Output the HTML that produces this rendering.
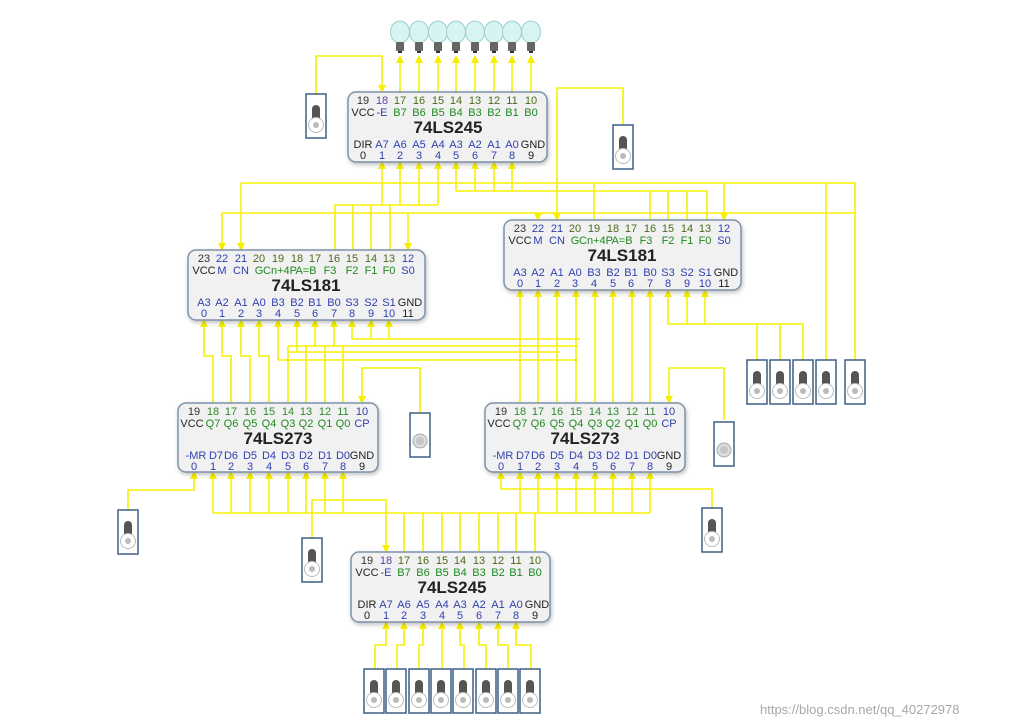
<!DOCTYPE html>
<html><head><meta charset="utf-8"><style>
html,body{margin:0;padding:0;background:#fff;width:1016px;height:727px;overflow:hidden}
svg{display:block}
.w{fill:none;stroke:#f6f000;stroke-width:1.6}
.n{font:11px "Liberation Sans",sans-serif;text-anchor:middle}
.t{font:bold 17px "Liberation Sans",sans-serif;text-anchor:middle;fill:#222}
.ch{fill:#f1f1f1;stroke:#7d93aa;stroke-width:1.5;filter:drop-shadow(1px 2px 2px rgba(0,0,0,0.25))}
.sw{fill:#fff;stroke:#3c5f85;stroke-width:1.5}
</style></head><body>
<svg width="1016" height="727" viewBox="0 0 1016 727" xmlns="http://www.w3.org/2000/svg">
<defs>
<marker id="a" markerWidth="8" markerHeight="8" refX="7" refY="4" orient="auto" markerUnits="userSpaceOnUse"><path d="M0,0 L8,4 L0,8 z" fill="#f6f000"/></marker>
<g id="s"><rect class="sw" x="0" y="0" width="20" height="44"/><rect x="6" y="11" width="8" height="18" rx="4" fill="#555"/><circle cx="10" cy="31" r="7.5" fill="#fff" stroke="#bbb"/><circle cx="10" cy="31" r="3" fill="#bbb"/></g>
<g id="bt"><rect class="sw" x="0" y="0" width="20" height="44"/><circle cx="10" cy="28" r="7" fill="#ddd" stroke="#aaa"/><circle cx="10" cy="28" r="4" fill="#c6c6c6"/></g>
<g id="bl"><ellipse cx="0" cy="-10" rx="9.5" ry="11" fill="#d6f4f2" stroke="#9ccfcc"/><rect x="-4" y="0" width="8" height="9" rx="1" fill="#666"/><rect x="-2" y="9" width="4" height="2" fill="#333"/></g>
</defs>

<use href="#bl" x="400" y="42"/><use href="#bl" x="419" y="42"/><use href="#bl" x="438" y="42"/><use href="#bl" x="456" y="42"/><use href="#bl" x="475" y="42"/><use href="#bl" x="494" y="42"/><use href="#bl" x="512" y="42"/><use href="#bl" x="531" y="42"/>

<g class="w">
<path d="M400 92V56" marker-end="url(#a)"/><path d="M419 92V56" marker-end="url(#a)"/><path d="M438 92V56" marker-end="url(#a)"/><path d="M456 92V56" marker-end="url(#a)"/><path d="M475 92V56" marker-end="url(#a)"/><path d="M494 92V56" marker-end="url(#a)"/><path d="M512 92V56" marker-end="url(#a)"/><path d="M531 92V56" marker-end="url(#a)"/>
<path d="M316 94V56H382V92" marker-end="url(#a)"/>
<path d="M623 125V88H557V220" marker-end="url(#a)"/>
<path d="M335 250V205H438"/>
<path d="M382 205V162" marker-end="url(#a)"/><path d="M400 205V162" marker-end="url(#a)"/><path d="M419 205V162" marker-end="url(#a)"/><path d="M438 205V162" marker-end="url(#a)"/>
<path d="M353 250V205M371 250V205M390 250V205"/>
<path d="M707 220V191H456"/>
<path d="M456 191V162" marker-end="url(#a)"/><path d="M475 191V162" marker-end="url(#a)"/><path d="M494 191V162" marker-end="url(#a)"/><path d="M512 191V162" marker-end="url(#a)"/>
<path d="M650 191V220M668 191V220M687 191V220"/>
<path d="M241 183H855V360"/><path d="M241 183V250" marker-end="url(#a)"/><path d="M594 183V220"/><path d="M724 183V220" marker-end="url(#a)"/><path d="M826 183V360"/>
<path d="M222 213H855"/><path d="M222 213V250" marker-end="url(#a)"/><path d="M408 213V250" marker-end="url(#a)"/><path d="M538 213V220" marker-end="url(#a)"/>
<path d="M213 403V356H204V320" marker-end="url(#a)"/><path d="M231 403V356H222V320" marker-end="url(#a)"/><path d="M250 403V356H241V320" marker-end="url(#a)"/><path d="M269 403V356H259V320" marker-end="url(#a)"/>
<path d="M352 339H580"/><path d="M352 339V320" marker-end="url(#a)"/><path d="M371 339V320" marker-end="url(#a)"/><path d="M389 339V320" marker-end="url(#a)"/>
<path d="M288 346H578M288 352H560M278 360H578"/>
<path d="M278 360V320" marker-end="url(#a)"/><path d="M297 352V320" marker-end="url(#a)"/><path d="M315 346V320" marker-end="url(#a)"/><path d="M334 346V320" marker-end="url(#a)"/>
<path d="M288 403V346M306 403V346M325 403V346M343 403V346"/>
<path d="M520 403V290" marker-end="url(#a)"/><path d="M538 403V290" marker-end="url(#a)"/><path d="M557 403V290" marker-end="url(#a)"/><path d="M576 403V290" marker-end="url(#a)"/><path d="M595 403V290" marker-end="url(#a)"/><path d="M613 403V290" marker-end="url(#a)"/><path d="M632 403V290" marker-end="url(#a)"/><path d="M650 403V290" marker-end="url(#a)"/>
<path d="M668 324H803V360M757 324V360M780 324V360"/>
<path d="M668 324V290" marker-end="url(#a)"/><path d="M687 324V290" marker-end="url(#a)"/><path d="M705 324V290" marker-end="url(#a)"/>
<path d="M420 413V368H362V403" marker-end="url(#a)"/>
<path d="M724 420V368H669V403" marker-end="url(#a)"/>
<path d="M128 510V490H194V472" marker-end="url(#a)"/>
<path d="M213 513H650"/>
<path d="M213 513V472" marker-end="url(#a)"/><path d="M231 513V472" marker-end="url(#a)"/><path d="M250 513V472" marker-end="url(#a)"/><path d="M269 513V472" marker-end="url(#a)"/><path d="M288 513V472" marker-end="url(#a)"/><path d="M306 513V472" marker-end="url(#a)"/><path d="M325 513V472" marker-end="url(#a)"/><path d="M343 513V472" marker-end="url(#a)"/>
<path d="M520 513V472" marker-end="url(#a)"/><path d="M538 513V472" marker-end="url(#a)"/><path d="M557 513V472" marker-end="url(#a)"/><path d="M576 513V472" marker-end="url(#a)"/><path d="M595 513V472" marker-end="url(#a)"/><path d="M613 513V472" marker-end="url(#a)"/><path d="M632 513V472" marker-end="url(#a)"/><path d="M650 513V472" marker-end="url(#a)"/>
<path d="M712 508V489H501V472" marker-end="url(#a)"/>
<path d="M404 513V552M423 513V552M442 513V552M460 513V552M479 513V552M498 513V552M516 513V552M535 513V552"/>
<path d="M312 538V500H386V552" marker-end="url(#a)"/>
<path d="M375 668V645H386V622" marker-end="url(#a)"/><path d="M397 668V645H404V622" marker-end="url(#a)"/><path d="M419 668V645H423V622" marker-end="url(#a)"/><path d="M442 668V645H442V622" marker-end="url(#a)"/><path d="M464 668V645H460V622" marker-end="url(#a)"/><path d="M486 668V645H479V622" marker-end="url(#a)"/><path d="M508 668V645H498V622" marker-end="url(#a)"/><path d="M531 668V645H516V622" marker-end="url(#a)"/>
</g>

<use href="#s" x="306" y="94"/><use href="#s" x="613" y="125"/>
<use href="#s" x="747" y="360"/><use href="#s" x="770" y="360"/><use href="#s" x="793" y="360"/><use href="#s" x="816" y="360"/><use href="#s" x="845" y="360"/>
<use href="#bt" x="410" y="413"/><use href="#bt" x="714" y="422"/>
<use href="#s" x="118" y="510"/><use href="#s" x="302" y="538"/><use href="#s" x="702" y="508"/>
<g><use href="#s" x="364" y="669"/><use href="#s" x="386" y="669"/><use href="#s" x="409" y="669"/><use href="#s" x="431" y="669"/><use href="#s" x="453" y="669"/><use href="#s" x="476" y="669"/><use href="#s" x="498" y="669"/><use href="#s" x="520" y="669"/></g>

<g transform="translate(0,92)">
<rect class="ch" x="348" y="0" width="199" height="70" rx="8"/>
<text class="n" y="12" fill="#4a6a1a"><tspan x="363" fill="#333">19</tspan><tspan x="382" fill="#6040a0">18</tspan><tspan x="400">17</tspan><tspan x="419">16</tspan><tspan x="438">15</tspan><tspan x="456">14</tspan><tspan x="475">13</tspan><tspan x="494">12</tspan><tspan x="512">11</tspan><tspan x="531">10</tspan></text>
<text class="n" y="24" fill="#1e8a1e"><tspan x="363" fill="#222">VCC</tspan><tspan x="382" fill="#3040b0">-E</tspan><tspan x="400">B7</tspan><tspan x="419">B6</tspan><tspan x="438">B5</tspan><tspan x="456">B4</tspan><tspan x="475">B3</tspan><tspan x="494">B2</tspan><tspan x="512">B1</tspan><tspan x="531">B0</tspan></text>
<text class="t" x="448" y="41">74LS245</text>
<text class="n" y="56" fill="#3040b0"><tspan x="363" fill="#222">DIR</tspan><tspan x="382">A7</tspan><tspan x="400">A6</tspan><tspan x="419">A5</tspan><tspan x="438">A4</tspan><tspan x="456">A3</tspan><tspan x="475">A2</tspan><tspan x="494">A1</tspan><tspan x="512">A0</tspan><tspan x="533" fill="#222">GND</tspan></text>
<text class="n" y="67" fill="#3040b0"><tspan x="363" fill="#222">0</tspan><tspan x="382">1</tspan><tspan x="400">2</tspan><tspan x="419">3</tspan><tspan x="438">4</tspan><tspan x="456">5</tspan><tspan x="475">6</tspan><tspan x="494">7</tspan><tspan x="512">8</tspan><tspan x="531" fill="#222">9</tspan></text>
</g>

<g transform="translate(4,552)">
<rect class="ch" x="347" y="0" width="199" height="70" rx="8"/>
<text class="n" y="12" fill="#4a6a1a"><tspan x="363" fill="#333">19</tspan><tspan x="382" fill="#6040a0">18</tspan><tspan x="400">17</tspan><tspan x="419">16</tspan><tspan x="438">15</tspan><tspan x="456">14</tspan><tspan x="475">13</tspan><tspan x="494">12</tspan><tspan x="512">11</tspan><tspan x="531">10</tspan></text>
<text class="n" y="24" fill="#1e8a1e"><tspan x="363" fill="#222">VCC</tspan><tspan x="382" fill="#3040b0">-E</tspan><tspan x="400">B7</tspan><tspan x="419">B6</tspan><tspan x="438">B5</tspan><tspan x="456">B4</tspan><tspan x="475">B3</tspan><tspan x="494">B2</tspan><tspan x="512">B1</tspan><tspan x="531">B0</tspan></text>
<text class="t" x="448" y="41">74LS245</text>
<text class="n" y="56" fill="#3040b0"><tspan x="363" fill="#222">DIR</tspan><tspan x="382">A7</tspan><tspan x="400">A6</tspan><tspan x="419">A5</tspan><tspan x="438">A4</tspan><tspan x="456">A3</tspan><tspan x="475">A2</tspan><tspan x="494">A1</tspan><tspan x="512">A0</tspan><tspan x="533" fill="#222">GND</tspan></text>
<text class="n" y="67" fill="#3040b0"><tspan x="363" fill="#222">0</tspan><tspan x="382">1</tspan><tspan x="400">2</tspan><tspan x="419">3</tspan><tspan x="438">4</tspan><tspan x="456">5</tspan><tspan x="475">6</tspan><tspan x="494">7</tspan><tspan x="512">8</tspan><tspan x="531" fill="#222">9</tspan></text>
</g>

<g transform="translate(0,250)">
<rect class="ch" x="188" y="0" width="237" height="70" rx="8"/>
<text class="n" y="12" fill="#4a6a1a"><tspan x="204" fill="#333">23</tspan><tspan x="222" fill="#3040b0">22</tspan><tspan x="241" fill="#3040b0">21</tspan><tspan x="259">20</tspan><tspan x="278">19</tspan><tspan x="297">18</tspan><tspan x="315">17</tspan><tspan x="334">16</tspan><tspan x="352">15</tspan><tspan x="371">14</tspan><tspan x="389">13</tspan><tspan x="408" fill="#3040b0">12</tspan></text>
<text class="n" y="24" fill="#1e8a1e"><tspan x="204" fill="#222">VCC</tspan><tspan x="222" fill="#3040b0">M</tspan><tspan x="241" fill="#3040b0">CN</tspan><tspan x="259">G</tspan><tspan x="280">Cn+4P</tspan><tspan x="306">A=B</tspan><tspan x="330">F3</tspan><tspan x="352">F2</tspan><tspan x="371">F1</tspan><tspan x="389">F0</tspan><tspan x="408" fill="#3040b0">S0</tspan></text>
<text class="t" x="306" y="41">74LS181</text>
<text class="n" y="56" fill="#3040b0"><tspan x="204">A3</tspan><tspan x="222">A2</tspan><tspan x="241">A1</tspan><tspan x="259">A0</tspan><tspan x="278">B3</tspan><tspan x="297">B2</tspan><tspan x="315">B1</tspan><tspan x="334">B0</tspan><tspan x="352">S3</tspan><tspan x="371">S2</tspan><tspan x="389">S1</tspan><tspan x="410" fill="#222">GND</tspan></text>
<text class="n" y="67" fill="#3040b0"><tspan x="204">0</tspan><tspan x="222">1</tspan><tspan x="241">2</tspan><tspan x="259">3</tspan><tspan x="278">4</tspan><tspan x="297">5</tspan><tspan x="315">6</tspan><tspan x="334">7</tspan><tspan x="352">8</tspan><tspan x="371">9</tspan><tspan x="389">10</tspan><tspan x="408" fill="#222">11</tspan></text>
</g>

<g transform="translate(316,220)">
<rect class="ch" x="188" y="0" width="237" height="70" rx="8"/>
<text class="n" y="12" fill="#4a6a1a"><tspan x="204" fill="#333">23</tspan><tspan x="222" fill="#3040b0">22</tspan><tspan x="241" fill="#3040b0">21</tspan><tspan x="259">20</tspan><tspan x="278">19</tspan><tspan x="297">18</tspan><tspan x="315">17</tspan><tspan x="334">16</tspan><tspan x="352">15</tspan><tspan x="371">14</tspan><tspan x="389">13</tspan><tspan x="408" fill="#3040b0">12</tspan></text>
<text class="n" y="24" fill="#1e8a1e"><tspan x="204" fill="#222">VCC</tspan><tspan x="222" fill="#3040b0">M</tspan><tspan x="241" fill="#3040b0">CN</tspan><tspan x="259">G</tspan><tspan x="280">Cn+4P</tspan><tspan x="306">A=B</tspan><tspan x="330">F3</tspan><tspan x="352">F2</tspan><tspan x="371">F1</tspan><tspan x="389">F0</tspan><tspan x="408" fill="#3040b0">S0</tspan></text>
<text class="t" x="306" y="41">74LS181</text>
<text class="n" y="56" fill="#3040b0"><tspan x="204">A3</tspan><tspan x="222">A2</tspan><tspan x="241">A1</tspan><tspan x="259">A0</tspan><tspan x="278">B3</tspan><tspan x="297">B2</tspan><tspan x="315">B1</tspan><tspan x="334">B0</tspan><tspan x="352">S3</tspan><tspan x="371">S2</tspan><tspan x="389">S1</tspan><tspan x="410" fill="#222">GND</tspan></text>
<text class="n" y="67" fill="#3040b0"><tspan x="204">0</tspan><tspan x="222">1</tspan><tspan x="241">2</tspan><tspan x="259">3</tspan><tspan x="278">4</tspan><tspan x="297">5</tspan><tspan x="315">6</tspan><tspan x="334">7</tspan><tspan x="352">8</tspan><tspan x="371">9</tspan><tspan x="389">10</tspan><tspan x="408" fill="#222">11</tspan></text>
</g>

<g transform="translate(0,403)">
<rect class="ch" x="178" y="0" width="200" height="69" rx="8"/>
<text class="n" y="12" fill="#2e8a2e"><tspan x="194" fill="#333">19</tspan><tspan x="213">18</tspan><tspan x="231">17</tspan><tspan x="250">16</tspan><tspan x="269">15</tspan><tspan x="288">14</tspan><tspan x="306">13</tspan><tspan x="325">12</tspan><tspan x="343">11</tspan><tspan x="362" fill="#3040b0">10</tspan></text>
<text class="n" y="24" fill="#1e8a1e"><tspan x="192" fill="#222">VCC</tspan><tspan x="213">Q7</tspan><tspan x="231">Q6</tspan><tspan x="250">Q5</tspan><tspan x="269">Q4</tspan><tspan x="288">Q3</tspan><tspan x="306">Q2</tspan><tspan x="325">Q1</tspan><tspan x="343">Q0</tspan><tspan x="362" fill="#3040b0">CP</tspan></text>
<text class="t" x="278" y="41">74LS273</text>
<text class="n" y="56" fill="#3040b0"><tspan x="196">-MR</tspan><tspan x="216">D7</tspan><tspan x="231">D6</tspan><tspan x="250">D5</tspan><tspan x="269">D4</tspan><tspan x="288">D3</tspan><tspan x="306">D2</tspan><tspan x="325">D1</tspan><tspan x="343">D0</tspan><tspan x="362" fill="#222">GND</tspan></text>
<text class="n" y="67" fill="#3040b0"><tspan x="194">0</tspan><tspan x="213">1</tspan><tspan x="231">2</tspan><tspan x="250">3</tspan><tspan x="269">4</tspan><tspan x="288">5</tspan><tspan x="306">6</tspan><tspan x="325">7</tspan><tspan x="343">8</tspan><tspan x="362" fill="#222">9</tspan></text>
</g>

<g transform="translate(307,403)">
<rect class="ch" x="178" y="0" width="200" height="69" rx="8"/>
<text class="n" y="12" fill="#2e8a2e"><tspan x="194" fill="#333">19</tspan><tspan x="213">18</tspan><tspan x="231">17</tspan><tspan x="250">16</tspan><tspan x="269">15</tspan><tspan x="288">14</tspan><tspan x="306">13</tspan><tspan x="325">12</tspan><tspan x="343">11</tspan><tspan x="362" fill="#3040b0">10</tspan></text>
<text class="n" y="24" fill="#1e8a1e"><tspan x="192" fill="#222">VCC</tspan><tspan x="213">Q7</tspan><tspan x="231">Q6</tspan><tspan x="250">Q5</tspan><tspan x="269">Q4</tspan><tspan x="288">Q3</tspan><tspan x="306">Q2</tspan><tspan x="325">Q1</tspan><tspan x="343">Q0</tspan><tspan x="362" fill="#3040b0">CP</tspan></text>
<text class="t" x="278" y="41">74LS273</text>
<text class="n" y="56" fill="#3040b0"><tspan x="196">-MR</tspan><tspan x="216">D7</tspan><tspan x="231">D6</tspan><tspan x="250">D5</tspan><tspan x="269">D4</tspan><tspan x="288">D3</tspan><tspan x="306">D2</tspan><tspan x="325">D1</tspan><tspan x="343">D0</tspan><tspan x="362" fill="#222">GND</tspan></text>
<text class="n" y="67" fill="#3040b0"><tspan x="194">0</tspan><tspan x="213">1</tspan><tspan x="231">2</tspan><tspan x="250">3</tspan><tspan x="269">4</tspan><tspan x="288">5</tspan><tspan x="306">6</tspan><tspan x="325">7</tspan><tspan x="343">8</tspan><tspan x="362" fill="#222">9</tspan></text>
</g>

<text x="760" y="714" style="font:13px 'Liberation Sans',sans-serif;fill:#a8a8a8">https://blog.csdn.net/qq_40272978</text>
</svg>
</body></html>
